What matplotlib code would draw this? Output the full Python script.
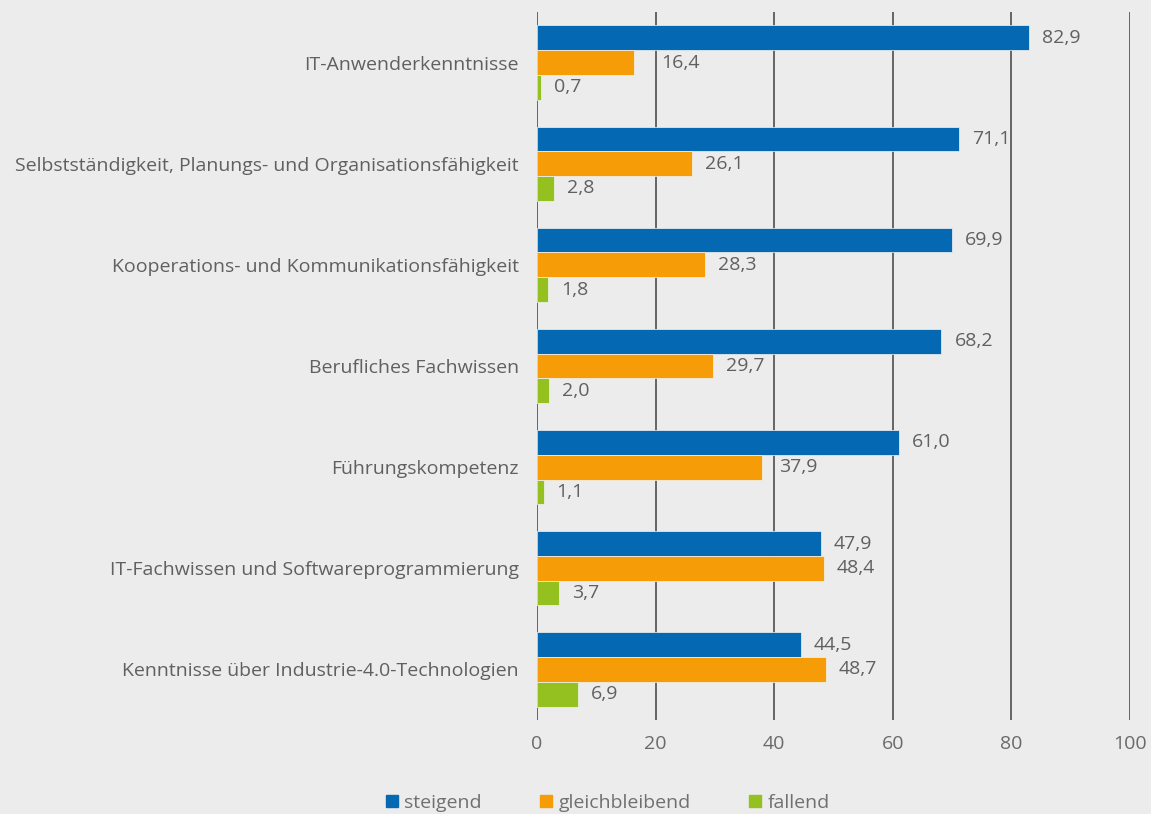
import matplotlib.pyplot as plt
import numpy as np

categories = [
    "IT-Anwenderkenntnisse",
    "Selbstständigkeit, Planungs- und Organisationsfähigkeit",
    "Kooperations- und Kommunikationsfähigkeit",
    "Berufliches Fachwissen",
    "Führungskompetenz",
    "IT-Fachwissen und Softwareprogrammierung",
    "Kenntnisse über Industrie-4.0-Technologien",
]
steigend = [82.9, 71.1, 69.9, 68.2, 61.0, 47.9, 44.5]
gleichbleibend = [16.4, 26.1, 28.3, 29.7, 37.9, 48.4, 48.7]
fallend = [0.7, 2.8, 1.8, 2.0, 1.1, 3.7, 6.9]
series_names = ["steigend", "gleichbleibend", "fallend"]
colors = ["#0568b3", "#f59c07", "#94c11f"]
xticks = [0, 20, 40, 60, 80, 100]

plt.rcParams['font.family'] = ['Open Sans', 'DejaVu Sans']
bg = "#ececec"
txt = "#606060"

fig = plt.figure(figsize=(11.51, 8.14), dpi=100, facecolor=bg)
ax = fig.add_axes([537 / 1151, 1 - 720 / 814, (1130 - 537) / 1151, (720 - 12) / 814])
ax.set_facecolor(bg)

n = len(categories)
y = np.arange(n)
h = 0.245
for i, (vals, c) in enumerate(zip([steigend, gleichbleibend, fallend], colors)):
    pos = y + (i - 1) * h
    ax.barh(pos, vals, height=h, color=c, edgecolor="#f4f4f4", linewidth=0.5,
            label=series_names[i], zorder=3)
    for p, v in zip(pos, vals):
        start = v + 2.2
        # keep the number clear of a grid line, as in the original
        for g in xticks:
            if start - 0.5 < g < start + 6.0:
                start = g + 0.9
        ax.text(start, p, f"{v:.1f}".replace(".", ","), va="center", ha="left",
                fontsize=14, color=txt, zorder=4)

ax.set_ylim(n - 0.5, -0.5)
ax.set_xlim(0, 100)
ax.set_xticks(xticks)
ax.grid(axis="x", color="#5a5a5a", linewidth=1.3, zorder=1)
ax.set_axisbelow(True)
ax.tick_params(axis="x", length=0, pad=11, labelsize=14, labelcolor="#6a6a6a")
ax.tick_params(axis="y", length=0, pad=13, labelsize=14, labelcolor=txt)
ax.set_yticks(y)
ax.set_yticklabels(categories)
for s in ax.spines.values():
    s.set_visible(False)

handles = [plt.Line2D([], [], marker="s", linestyle="", color=c, markersize=8) for c in colors]
leg = fig.legend(handles, series_names, loc="center", bbox_to_anchor=(608 / 1151, 1 - 803 / 814),
                 ncol=3, frameon=False, fontsize=14, handletextpad=0.35, columnspacing=3.0,
                 handlelength=0.6, borderpad=0)
for t in leg.get_texts():
    t.set_color("#707070")

fig.savefig("out.png", dpi=100, facecolor=bg)
